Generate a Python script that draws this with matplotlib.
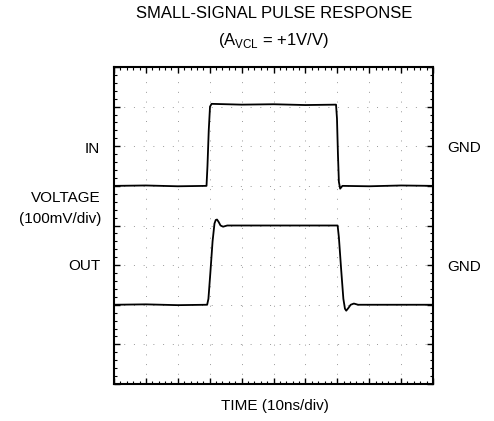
import matplotlib
matplotlib.use("Agg")
import matplotlib.pyplot as plt
from matplotlib.ticker import MultipleLocator

plt.rcParams['font.family'] = ['Liberation Sans', 'DejaVu Sans']
plt.rcParams['mathtext.fontset'] = 'custom'
plt.rcParams['mathtext.rm'] = 'Liberation Sans'

# input trace (time in ns, level in mV, 100mV/div, center = 0)
in_t = [0, 10, 20, 29.0, 29.3, 29.7, 30.1, 30.6, 40, 50, 60, 69.6, 69.9, 70.2, 70.5, 70.9, 71.6, 80, 90, 100]
in_v = [100, 101, 99, 100, 150, 240, 300, 307, 305, 306, 304, 305, 270, 180, 110, 93, 100, 99, 101, 100]

# output trace
out_t = [0, 10, 20, 29.2, 29.6, 30.2, 30.9, 31.5, 31.9, 32.3, 32.8, 33.4, 34.2, 35.5, 50, 70.1,
         70.5, 71.2, 71.9, 72.4, 72.8, 73.4, 74.2, 75.2, 76.5, 90, 100]
out_v = [-200, -199, -201, -200, -185, -120, -40, 5, 14, 15, 9, 0, -3, 0, 0, 0,
         -30, -110, -185, -210, -215, -209, -200, -197, -200, -200, -200]

fig = plt.figure(figsize=(4.94, 4.21), dpi=100)
ax = fig.add_axes([114 / 494, 1 - 384 / 421, 319 / 494, 317 / 421])

ax.plot(in_t, in_v, color='black', lw=1.3)
ax.plot(out_t, out_v, color='black', lw=1.3)

ax.set_xlim(0, 100)
ax.set_ylim(-400, 400)
ax.xaxis.set_major_locator(MultipleLocator(10))
ax.yaxis.set_major_locator(MultipleLocator(100))
ax.xaxis.set_minor_locator(MultipleLocator(2))
ax.yaxis.set_minor_locator(MultipleLocator(20))
ax.tick_params(which='both', direction='in', top=True, right=True,
               labelbottom=False, labelleft=False, color='black')
ax.tick_params(which='major', length=4, width=1)
ax.tick_params(which='minor', length=2.5, width=0.8)
ax.grid(True, which='major', color='0.6', lw=0.7, linestyle=(0, (1, 9)))
for s in ax.spines.values():
    s.set_linewidth(1.5)

fig.text(274 / 494, 1 - 13 / 421, 'SMALL-SIGNAL PULSE RESPONSE', ha='center', va='center', fontsize=12)
fig.text(274 / 494, 1 - 41 / 421, r'(A$_{\mathrm{VCL}}$ = +1V/V)', ha='center', va='center', fontsize=12)
fig.text(100 / 494, 1 - 149 / 421, 'IN', ha='right', va='center', fontsize=11)
fig.text(101 / 494, 1 - 198 / 421, 'VOLTAGE', ha='right', va='center', fontsize=11)
fig.text(101 / 494, 1 - 219 / 421, '(100mV/div)', ha='right', va='center', fontsize=11)
fig.text(100 / 494, 1 - 266 / 421, 'OUT', ha='right', va='center', fontsize=11)
fig.text(447 / 494, 1 - 148 / 421, 'GND', ha='left', va='center', fontsize=11)
fig.text(447 / 494, 1 - 267 / 421, 'GND', ha='left', va='center', fontsize=11)
fig.text(275 / 494, 1 - 406 / 421, 'TIME (10ns/div)', ha='center', va='center', fontsize=11)

fig.savefig('out.png', dpi=100)
